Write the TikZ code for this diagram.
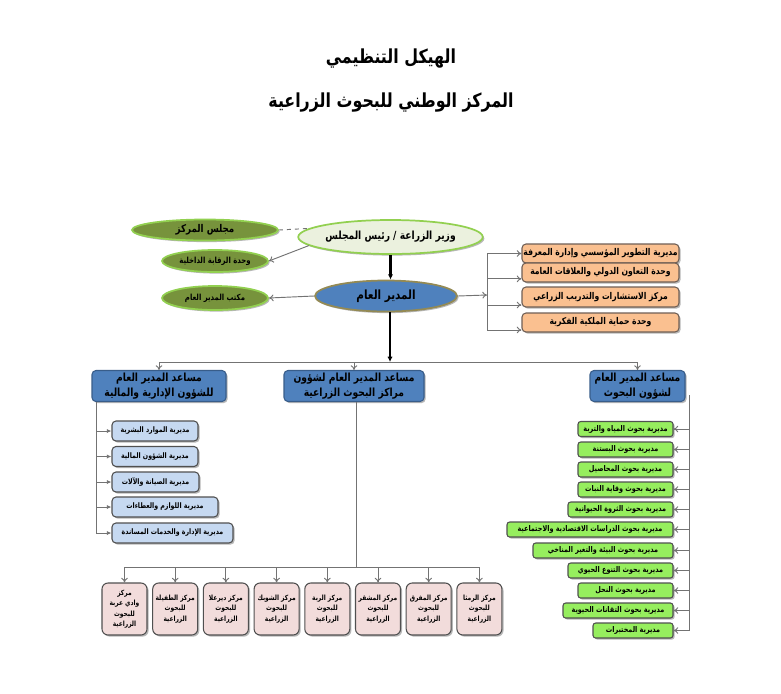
\documentclass[tikz,border=0pt]{standalone}
\usepackage{fontspec}
\usetikzlibrary{shapes.geometric,arrows.meta,shadows,calc}
\TeXXeTstate=1
\newfontfamily\arabicfont[Script=Arabic,FakeStretch=0.82]{DejaVu Sans}
\newcommand\AR[1]{\beginR #1\endR}
\definecolor{minfill}{HTML}{EBF1DE}
\definecolor{lgreen}{HTML}{92D050}
\definecolor{olivef}{HTML}{77933C}
\definecolor{dgblue}{HTML}{4F81BD}
\definecolor{dgborder}{HTML}{948A54}
\definecolor{asborder}{HTML}{385D8A}
\definecolor{orfill}{HTML}{FAC090}
\definecolor{orborder}{HTML}{6F5F55}
\definecolor{lbfill}{HTML}{C6D9F1}
\definecolor{grfill}{HTML}{96EE5E}
\definecolor{pkfill}{HTML}{F2DCDB}
\definecolor{bxborder}{HTML}{505050}
\tikzset{
  conn/.style={draw=black!55, line width=0.7pt},
  opena/.style={conn, -{To[length=3.5pt,width=5pt]}},
  filla/.style={conn, -{Latex[length=3.5pt,width=3.2pt]}},
  heavy/.style={draw=black, line width=1.6pt, -{Latex[length=4pt,width=4pt]}},
  shad/.style={drop shadow={shadow xshift=1.2pt, shadow yshift=-1.2pt, opacity=0.4, fill=black!70}},
  ell/.style={ellipse, inner sep=0pt, line width=1.3pt, shad, text=black},
  bx/.style={rectangle, rounded corners=3pt, inner sep=0pt, line width=0.8pt, shad, align=center, text=black},
  w/.style={minimum width=#1*0.75pt},
  h/.style={minimum height=#1*0.75pt},
  fpink/.style={font=\arabicfont\bfseries\fontsize{5.4}{7.9}\selectfont},
  fblue/.style={font=\arabicfont\bfseries\fontsize{5.7}{7}\selectfont},
  fgreen/.style={font=\arabicfont\bfseries\fontsize{5.9}{7}\selectfont},
  fsmall/.style={font=\arabicfont\bfseries\fontsize{6.3}{8}\selectfont},
  forange/.style={font=\arabicfont\bfseries\fontsize{7}{9}\selectfont},
  fcou/.style={font=\arabicfont\bfseries\fontsize{8}{10}\selectfont},
  fasst/.style={font=\arabicfont\bfseries\fontsize{8.4}{11}\selectfont},
  fmin/.style={font=\arabicfont\bfseries\fontsize{8.4}{11}\selectfont},
  fdg/.style={font=\arabicfont\bfseries\fontsize{9.5}{12}\selectfont},
  ft/.style={font=\arabicfont\bfseries\fontsize{14.5}{17}\selectfont},
  olive/.style={ell, fill=olivef, draw=lgreen},
  orange/.style={bx, fill=orfill, draw=orborder, forange},
  lblue/.style={bx, fill=lbfill, draw=bxborder, fblue, h=20},
  green/.style={bx, fill=grfill, draw=bxborder, fgreen, h=15, rounded corners=2pt},
  pink/.style={bx, fill=pkfill, draw=bxborder, fpink, rounded corners=4.5pt, w=45, h=52},
  asst/.style={bx, fill=dgblue, draw=asborder, fasst, h=31}
}
\begin{document}
\begin{tikzpicture}[x=0.75pt,y=-0.75pt]
\fill[white] (0,0) rectangle (781,693);
\useasboundingbox (0,0) rectangle (781,693);

% titles
\node[ft] (t1) at (391,59) {\AR{الهيكل التنظيمي}};
\node[ft] (t2) at (391,103) {\AR{المركز الوطني للبحوث الزراعية}};

% top level
\node[ell, fill=minfill, draw=lgreen, w=173, h=34, fmin] (min) at (390.5,237) {\AR{وزير الزراعة / رئيس المجلس}};
\node[olive, w=146, h=21, fcou] (cou) at (205,230) {\AR{مجلس المركز}};
\node[olive, w=106, h=22, fsmall] (aud) at (215,261) {\AR{وحدة الرقابة الداخلية}};
\node[olive, w=106, h=24, fsmall] (off) at (215,298) {\AR{مكتب المدير العام}};
\node[ell, fill=dgblue, draw=dgborder, w=142, h=31, fdg] (dg) at (386,296) {\AR{المدير العام}};

\draw[conn, dashed] (cou.east) -- (min.174);
\draw[opena] (min.186) -- (aud.east);
\draw[opena] (dg.west) -- (off.east);
\draw[heavy] (min.south) -- (min.south |- dg.north);

% orange boxes
\node[orange, w=157, h=19] (o1) at (600.5,253.5) {\AR{مديرية التطوير المؤسسي وإدارة المعرفة}};
\node[orange, w=157, h=19] (o2) at (600.5,272.5) {\AR{وحدة التعاون الدولي والعلاقات العامة}};
\node[orange, w=157, h=20] (o3) at (600.5,297) {\AR{مركز الاستشارات والتدريب الزراعي}};
\node[orange, w=157, h=19] (o4) at (600.5,322.5) {\AR{وحدة حماية الملكية الفكرية}};
\coordinate (br) at (487,295);
\coordinate (o2a) at ([yshift=-4.8pt]o2.west);
\coordinate (o3a) at ([yshift=-6pt]o3.west);
\coordinate (o4a) at ([yshift=-5.6pt]o4.west);
\draw[opena] (dg.east) -- (br);
\draw[conn] (br |- o1.west) -- (br |- o4a);
\draw[opena] (br |- o1.west) -- (o1.west);
\draw[opena] (br |- o2a) -- (o2a);
\draw[opena] (br |- o3a) -- (o3a);
\draw[opena] (br |- o4a) -- (o4a);

% assistants
\node[asst, w=134] (asL) at (159,386) {\AR{مساعد المدير العام}\\\AR{للشؤون الإدارية والمالية}};
\node[asst, w=140] (asM) at (354,386) {\AR{مساعد المدير العام لشؤون}\\\AR{مراكز البحوث الزراعية}};
\node[asst, w=95] (asR) at (637.5,386) {\AR{مساعد المدير العام}\\\AR{لشؤون البحوث}};
\coordinate (bus) at (390,362);
\draw[heavy] (bus |- dg.south) -- (bus);
\draw[conn] (asL.north |- bus) -- (asR.north |- bus);
\draw[opena] (asL.north |- bus) -- (asL.north);
\draw[opena] (asM.north |- bus) -- (asM.north);
\draw[opena] (asR.north |- bus) -- (asR.north);

% left column
\node[lblue, w=86] (b1) at (155,431) {\AR{مديرية الموارد البشرية}};
\node[lblue, w=86] (b2) at (155,456.5) {\AR{مديرية الشؤون المالية}};
\node[lblue, w=87] (b3) at (155.5,482) {\AR{مديرية الصيانة والآلات}};
\node[lblue, w=106] (b4) at (165,507) {\AR{مديرية اللوازم والعطاءات}};
\node[lblue, w=121] (b5) at (172.5,533) {\AR{مديرية الإدارة والخدمات المساندة}};
\coordinate (lv) at (96,401);
\draw[conn] (lv |- asL.south) -- (lv |- b5.west);
\foreach \b in {b1,b2,b3,b4,b5} \draw[filla] (lv |- \b.west) -- (\b.west);

% middle: research centres
\node[pink] (c1) at (124.5,609) {\AR{مركز}\\\AR{وادي عربة}\\\AR{للبحوث}\\\AR{الزراعية}};
\node[pink] (c2) at (175.2,609) {\AR{مركز الطفيلة}\\\AR{للبحوث}\\\AR{الزراعية}};
\node[pink] (c3) at (225.9,609) {\AR{مركز ديرعلا}\\\AR{للبحوث}\\\AR{الزراعية}};
\node[pink] (c4) at (276.6,609) {\AR{مركز الشوبك}\\\AR{للبحوث}\\\AR{الزراعية}};
\node[pink] (c5) at (327.3,609) {\AR{مركز الربة}\\\AR{للبحوث}\\\AR{الزراعية}};
\node[pink] (c6) at (378,609) {\AR{مركز المشقر}\\\AR{للبحوث}\\\AR{الزراعية}};
\node[pink] (c7) at (428.7,609) {\AR{مركز المفرق}\\\AR{للبحوث}\\\AR{الزراعية}};
\node[pink] (c8) at (479.4,609) {\AR{مركز الرمثا}\\\AR{للبحوث}\\\AR{الزراعية}};
\coordinate (bus2) at (356,567);
\draw[conn] (bus2 |- asM.south) -- (bus2);
\draw[conn] (c1.north |- bus2) -- (c8.north |- bus2);
\foreach \c in {c1,c2,c3,c4,c5,c6,c7,c8} \draw[opena] (\c.north |- bus2) -- (\c.north);

% right column
\node[green, w=95] (g1) at (625.5,429) {\AR{مديرية  بحوث المياه والتربة}};
\node[green, w=95] (g2) at (625.5,449.5) {\AR{مديرية بحوث البستنة}};
\node[green, w=95] (g3) at (625.5,469.5) {\AR{مديرية بحوث المحاصيل}};
\node[green, w=95] (g4) at (625.5,489.5) {\AR{مديرية بحوث وقاية النبات}};
\node[green, w=105] (g5) at (620.5,509.5) {\AR{مديرية بحوث الثروة الحيوانية}};
\node[green, w=166] (g6) at (590,529.5) {\AR{مديرية بحوث الدراسات الاقتصادية والاجتماعية}};
\node[green, w=140] (g7) at (603,550.5) {\AR{مديرية بحوث البيئة والتغير المناخي}};
\node[green, w=105] (g8) at (620.5,570.5) {\AR{مديرية بحوث التنوع الحيوي}};
\node[green, w=95] (g9) at (625.5,590.5) {\AR{مديرية بحوث النحل}};
\node[green, w=110] (g10) at (618,610.5) {\AR{مديرية بحوث التقانات الحيوية}};
\node[green, w=80] (g11) at (633,630.5) {\AR{مديرية المختبرات}};
\coordinate (rv) at (689,395);
\draw[conn] (rv) -- (rv |- g11.east);
\foreach \g in {g1,g2,g3,g4,g5,g6,g7,g8,g9,g10,g11} \draw[opena] (rv |- \g.east) -- (\g.east);
\end{tikzpicture}
\end{document}
